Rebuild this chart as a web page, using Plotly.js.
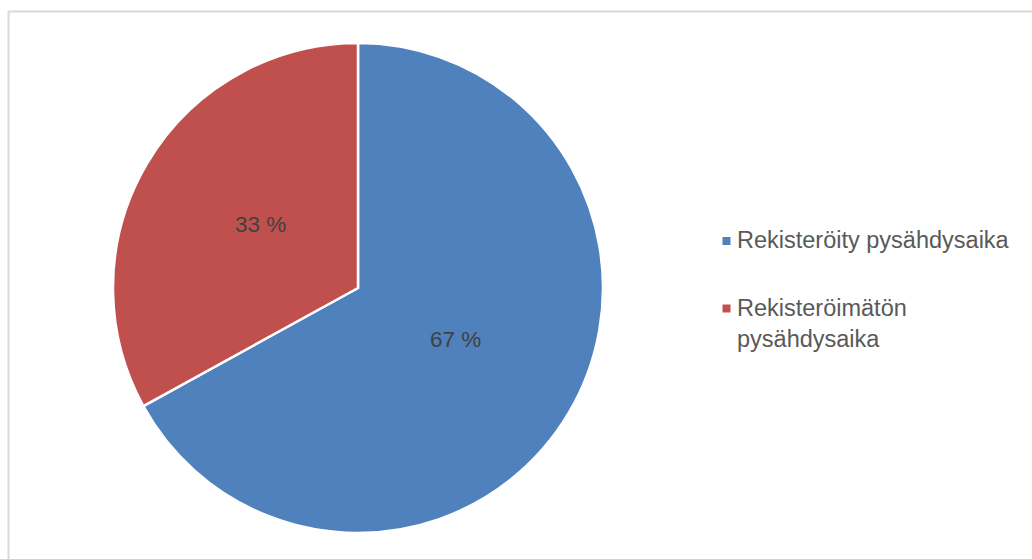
<!DOCTYPE html>
<html>
<head>
<meta charset="utf-8">
<script src="https://cdn.plot.ly/plotly-3.0.1.min.js"></script>
<style>html,body{margin:0;padding:0;background:#fff;}#chart{width:1032px;height:559px;}</style>
</head>
<body>
<div id="chart"></div>
<script>
const labels = ["Rekisteröity pysähdysaika", "Rekisteröimätön<br>pysähdysaika"];
const values = [67, 33];
const colors = ["#4f81bd", "#c0504d"];

const W = 1032, H = 559;
const FONT = "Liberation Sans, Arial, sans-serif";
// pie geometry (pixels)
const CX = 358, CY = 288, R = 245;
const px = x => x / W;
const py = y => 1 - y / H;

const trace = {
  type: "pie",
  labels: labels,
  values: values,
  sort: false,
  direction: "clockwise",
  rotation: 0,
  marker: {colors: colors, line: {color: "#ffffff", width: 2.5}},
  textinfo: "none",
  hoverinfo: "label+percent",
  showlegend: false,
  domain: {x: [px(CX - R), px(CX + R)], y: [py(CY + R), py(CY - R)]}
};

// data labels placed at each slice's mid-angle, derived from the values
const total = values.reduce((a, b) => a + b, 0);
const annotations = [];
let cum = 0;
values.forEach((v, i) => {
  const mid = (cum + v / 2) / total * 2 * Math.PI;
  cum += v;
  const r = 0.46 * R;
  const x = CX + r * Math.sin(mid);
  const y = CY - r * Math.cos(mid) - 6;
  annotations.push({
    xref: "paper", yref: "paper", x: px(x), y: py(y),
    xanchor: "center", yanchor: "middle", showarrow: false,
    text: v + " %",
    font: {family: FONT, size: 22.5, color: "#404040"}
  });
});

// legend
const legendY = [240, 323];
const markerY = [241, 308.5];
const shapes = [{
  type: "rect", xref: "paper", yref: "paper",
  x0: px(8.5), x1: 1.05, y0: -0.05, y1: py(11.5),
  line: {color: "#d9d9d9", width: 2}, fillcolor: "rgba(0,0,0,0)", layer: "below"
}];
labels.forEach((lab, i) => {
  shapes.push({
    type: "rect", xref: "paper", yref: "paper",
    x0: px(722.5), x1: px(730.5), y0: py(markerY[i] + 4), y1: py(markerY[i] - 4),
    line: {width: 0}, fillcolor: colors[i]
  });
  annotations.push({
    xref: "paper", yref: "paper", x: px(735), y: py(legendY[i]),
    xanchor: "left", yanchor: "middle", align: "left", showarrow: false,
    text: lab,
    font: {family: FONT, size: 23.5, color: "#595959"}
  });
});

const layout = {
  width: W, height: H,
  margin: {l: 0, r: 0, t: 0, b: 0},
  paper_bgcolor: "#ffffff",
  showlegend: false,
  shapes: shapes,
  annotations: annotations
};
Plotly.newPlot("chart", [trace], layout, {displayModeBar: false, staticPlot: true});
</script>
</body>
</html>
